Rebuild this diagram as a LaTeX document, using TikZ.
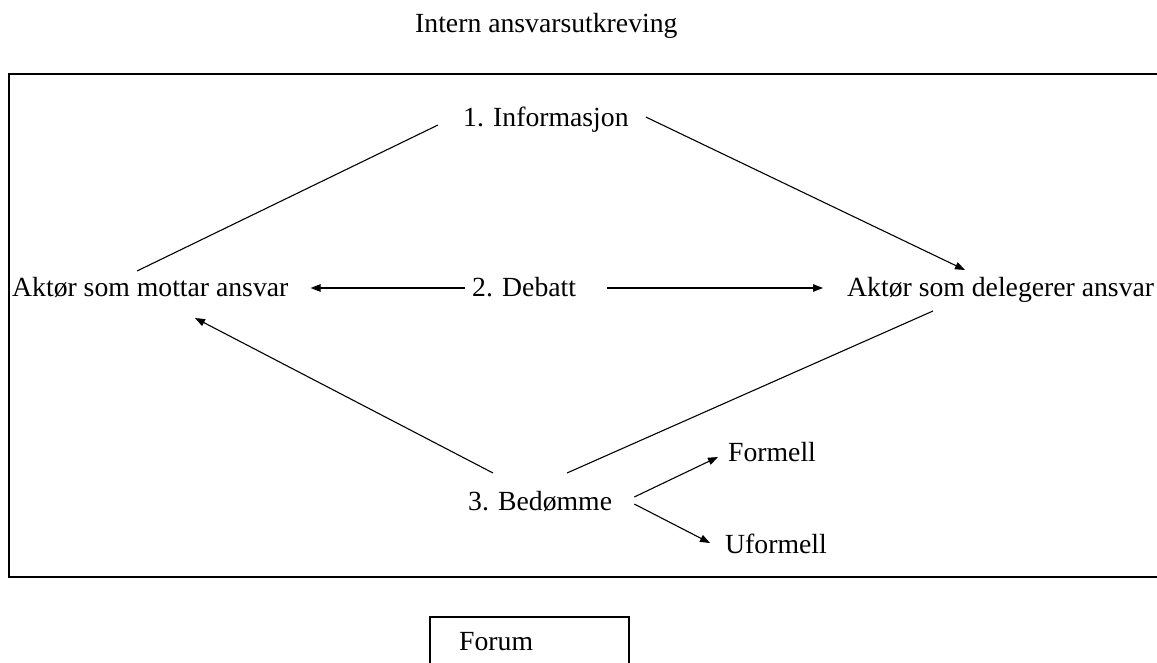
\documentclass[tikz,border=0pt]{standalone}
\usepackage{fontspec}
\setmainfont{Liberation Serif}
\usetikzlibrary{arrows.meta}

\begin{document}
\begin{tikzpicture}[x=1pt,y=-1pt,
  lbl/.style={inner sep=0pt, anchor=base west, font=\fontsize{27.7}{33}\selectfont},
  linje/.style={line width=1.1pt},
  pil/.style={linje, -{Triangle[length=10pt,width=7.5pt]}}]
\useasboundingbox (0,0) rectangle (1157,663);

% rammer
\draw[line width=1.3pt] (9,74) rectangle (1175,577);
\draw[line width=1.3pt] (430,617) rectangle (629,690);

\node[lbl] (tittel) at (415,32.5) {Intern ansvarsutkreving};
\node[lbl] (info) at (463,127) {1. Informasjon};
\node[lbl] (mottar) at (12,296) {Aktør som mottar ansvar};
\node[lbl] (debatt) at (472,296) {2. Debatt};
\node[lbl] (deleg) at (847,296) {Aktør som delegerer ansvar};
\node[lbl] (bedom) at (468,510) {3. Bedømme};
\node[lbl] (formell) at (728,461) {Formell};
\node[lbl] (uformell) at (725,553) {Uformell};
\node[lbl] (forum) at (459,650) {Forum};

\draw[linje] ([xshift=-25pt,yshift=2pt]info.base west) -- ([xshift=125pt,yshift=25pt]mottar.base west);
\draw[pil] ([xshift=17pt,yshift=10pt]info.base east) -- ([xshift=118pt,yshift=26pt]deleg.base west);
\draw[pil] ([xshift=-7pt,yshift=8pt]debatt.base west) -- ([xshift=22pt,yshift=8pt]mottar.base east);
\draw[pil] ([xshift=31pt,yshift=8pt]debatt.base east) -- ([xshift=-24pt,yshift=8pt]deleg.base west);
\draw[pil] ([xshift=25pt,yshift=37pt]bedom.base west) -- ([xshift=183pt,yshift=-22pt]mottar.base west);
\draw[linje] ([xshift=99pt,yshift=37pt]bedom.base west) -- ([xshift=86pt,yshift=-15pt]deleg.base west);
\draw[pil] ([xshift=22pt,yshift=13pt]bedom.base east) -- ([xshift=-10pt,yshift=4pt]formell.base west);
\draw[pil] ([xshift=22pt,yshift=6pt]bedom.base east) -- ([xshift=-15pt,yshift=10pt]uformell.base west);

\end{tikzpicture}
\end{document}
